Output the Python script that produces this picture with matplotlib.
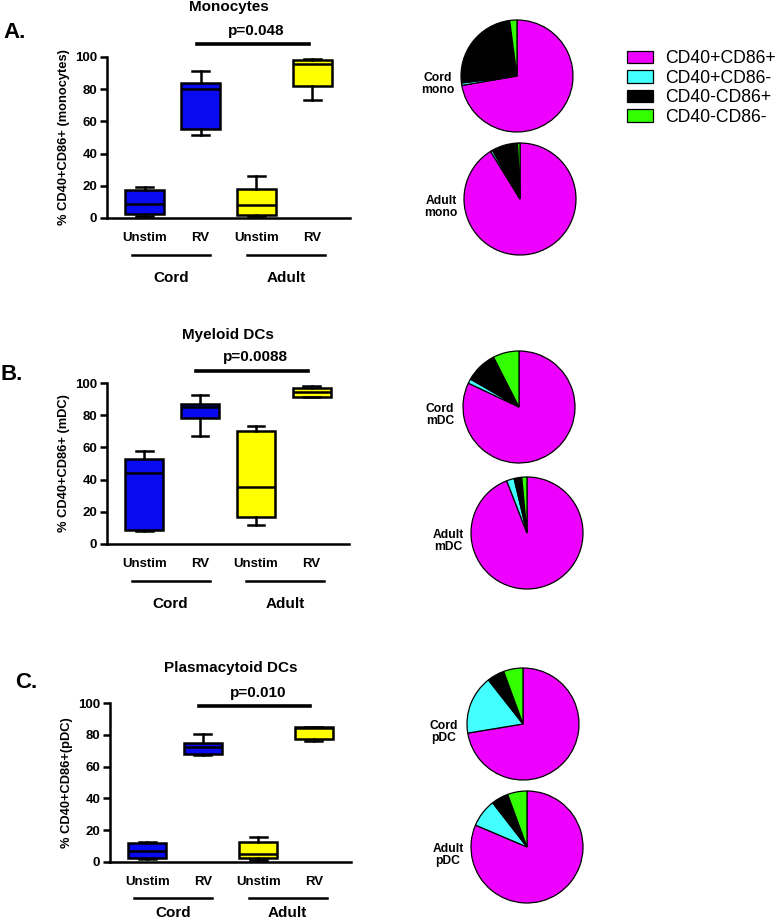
import matplotlib
matplotlib.use("Agg")
import matplotlib.pyplot as plt

plt.rcParams['font.family'] = ['Liberation Sans', 'DejaVu Sans']

# ---------------- data ----------------
groups = ["Unstim", "RV", "Unstim", "RV"]
group_names = ["Cord", "Adult"]
panel_titles = ["Monocytes", "Myeloid DCs", "Plasmacytoid DCs"]
panel_letters = ["A.", "B.", "C.", ]
y_labels = ["% CD40+CD86+ (monocytes)", "% CD40+CD86+ (mDC)", "% CD40+CD86+(pDC)"]
p_values = ["p=0.048", "p=0.0088", "p=0.010"]

# box stats: (min, q1, median, q3, max) for Cord Unstim, Cord RV, Adult Unstim, Adult RV
mono_stats = [(1.2, 2.3, 8.7, 17.6, 19), (51.6, 55.3, 80.3, 83.7, 91.3),
              (1.0, 1.9, 8.0, 17.8, 26), (73, 82, 95.5, 98, 99)]
mdc_stats = [(8, 9, 44, 53, 58), (67, 78, 85, 87, 92.5),
             (11.7, 16.7, 35.6, 70.3, 73), (91, 91.3, 94.4, 96.7, 98)]
pdc_stats = [(2, 2.5, 7, 12, 12.8), (67.5, 68, 72.5, 75, 80.5),
             (1, 2.5, 5, 12.8, 15.9), (76, 77.5, 84, 85, 85)]

pie_labels = ["CD40+CD86+", "CD40+CD86-", "CD40-CD86+", "CD40-CD86-"]
cord_mono = [72.3, 0.7, 24.9, 2.1]
adult_mono = [91.2, 0.6, 7.5, 0.7]
cord_mdc = [82.0, 1.3, 9.2, 7.5]
adult_mdc = [94.1, 2.2, 2.2, 1.5]
cord_pdc = [72.4, 17.0, 5.0, 5.6]
adult_pdc = [81.4, 8.1, 4.9, 5.6]
pie_names = [("Cord\nmono", "Adult\nmono"), ("Cord\nmDC", "Adult\nmDC"), ("Cord\npDC", "Adult\npDC")]

box_colors = ["#0A0AF0", "#0A0AF0", "#FFFF00", "#FFFF00"]
pie_colors = ["#EE00FF", "#44FFFF", "#000000", "#33FF00"]

# ---------------- layout ----------------
W, H = 779, 924
fig = plt.figure(figsize=(W / 100, H / 100), dpi=100)

def px_axes(x0, x1, ytop, ybot):
    return fig.add_axes([x0 / W, 1 - ybot / H, (x1 - x0) / W, (ybot - ytop) / H])

# (left, right, y100, y0)
box_geom = [(107, 350, 57, 218), (107, 349, 383, 544), (110, 351, 703, 862)]
title_y = [1.31, 1.30, 1.22]
p_text_y = [1.16, 1.16, 1.065]
p_line_y = [1.08, 1.075, 0.98]
group_name_y = [-0.37, -0.37, -0.318]
letter_pos = [(3, 32), (0, 375), (15, 683)]
pie_centers = [((517, 76), (520, 199)), ((519, 407), (527, 533)), ((523, 724), (527, 847))]
pie_data = [(cord_mono, adult_mono), (cord_mdc, adult_mdc), (cord_pdc, adult_pdc)]
R = 56
LW = 1.8

all_stats = [mono_stats, mdc_stats, pdc_stats]
wedges_for_legend = None

for i in range(3):
    L, Rr, yt, yb = box_geom[i]
    ax = px_axes(L, Rr, yt, yb)
    stats = [dict(whislo=s[0], q1=s[1], med=s[2], q3=s[3], whishi=s[4], fliers=[])
             for s in all_stats[i]]
    bp = ax.bxp(stats, positions=[1, 2, 3, 4], widths=0.68, patch_artist=True,
                showfliers=False, capwidths=0.3,
                boxprops=dict(linewidth=LW, edgecolor='black'),
                whiskerprops=dict(linewidth=LW, color='black'),
                capprops=dict(linewidth=LW, color='black'),
                medianprops=dict(linewidth=LW, color='black'))
    for patch, c in zip(bp['boxes'], box_colors):
        patch.set_facecolor(c)
    for art in bp['boxes'] + bp['whiskers'] + bp['caps'] + bp['medians']:
        art.set_clip_on(False)
    ax.set_xlim(0.33, 4.67)
    ax.set_ylim(0, 100)
    ax.set_yticks([0, 20, 40, 60, 80, 100])
    ax.set_xticks([1, 2, 3, 4])
    ax.set_xticklabels(groups, fontsize=9.5, fontweight='bold')
    ax.tick_params(axis='x', length=0, pad=10)
    ax.tick_params(axis='y', length=5, width=LW, pad=2, labelsize=9.5)
    for lab in ax.get_yticklabels():
        lab.set_fontweight('bold')
    for sp in ['top', 'right']:
        ax.spines[sp].set_visible(False)
    for sp in ['left', 'bottom']:
        ax.spines[sp].set_linewidth(LW)
    ax.set_ylabel(y_labels[i], fontsize=9.3, fontweight='bold', labelpad=4)
    tr = ax.get_xaxis_transform()
    # group lines and names
    for gx, name in zip([1.47, 3.53], group_names):
        ax.plot([gx - 0.7, gx + 0.7], [-0.228, -0.228], color='black', lw=LW,
                transform=tr, clip_on=False)
        ax.text(gx, group_name_y[i], name, transform=tr, ha='center', va='center',
                fontsize=11, fontweight='bold')
    # significance
    ax.plot([1.93, 3.93], [p_line_y[i], p_line_y[i]], color='black', lw=2.6,
            transform=tr, clip_on=False)
    ax.text(3.0, p_text_y[i], p_values[i], transform=tr, ha='center', va='center',
            fontsize=11, fontweight='bold')
    ax.text(2.5, title_y[i], panel_titles[i], transform=tr, ha='center', va='center',
            fontsize=11, fontweight='bold')
    lx, ly = letter_pos[i]
    fig.text(lx / W, 1 - ly / H, panel_letters[i], ha='left', va='center',
             fontsize=16, fontweight='bold')

    # pies
    for j in range(2):
        cx, cy = pie_centers[i][j]
        pax = px_axes(cx - R, cx + R, cy - R, cy + R)
        wedges, _ = pax.pie(pie_data[i][j], colors=pie_colors, startangle=90,
                            counterclock=False, radius=1,
                            wedgeprops=dict(edgecolor='black', linewidth=0.9))
        pax.set_xlim(-1, 1)
        pax.set_ylim(-1, 1)
        pax.set_aspect('equal')
        pax.axis('off')
        pax.text(-1.41, -0.14, pie_names[i][j], ha='center', va='center',
                 fontsize=8.7, fontweight='bold', linespacing=1.0, clip_on=False)
        if wedges_for_legend is None:
            wedges_for_legend = wedges

leg = fig.legend(wedges_for_legend, pie_labels, loc='upper left',
                 bbox_to_anchor=(627 / W, 1 - 50 / H), frameon=False,
                 fontsize=12.7, handlelength=1.45, handleheight=0.72,
                 handletextpad=0.7, labelspacing=0.15, borderpad=0,
                 borderaxespad=0)

fig.savefig("out.png", dpi=100)
